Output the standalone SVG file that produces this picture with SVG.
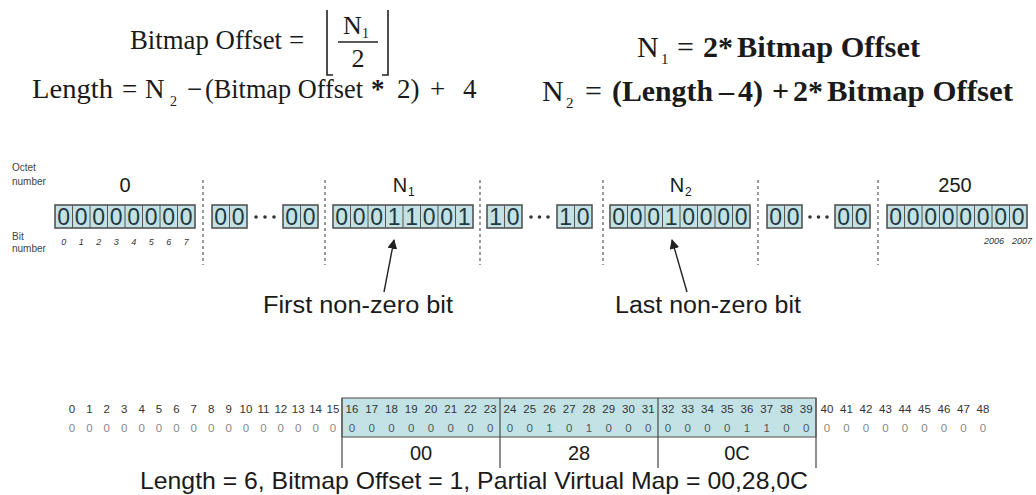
<svg xmlns="http://www.w3.org/2000/svg" width="1036" height="495" viewBox="0 0 1036 495">
<style>
.ser{font-family:"Liberation Serif","Times New Roman",serif;fill:#1a1a1a}
.sans{font-family:"Liberation Sans",Arial,sans-serif;fill:#1a1a1a}
.grp{fill:#c4e1e4;stroke:#4a4a4a;stroke-width:1.5}
.cl{stroke:#555;stroke-width:1}
.dig{font-family:"Liberation Sans",Arial,sans-serif;font-size:23px;fill:#1e3a40;text-anchor:middle}
.sep{stroke:#666;stroke-width:1.3;stroke-dasharray:3 3}
.dot{fill:#333}
.bn{font-family:"Liberation Sans",Arial,sans-serif;font-size:9px;font-style:italic;fill:#333;text-anchor:middle}
.lbl{font-family:"Liberation Sans",Arial,sans-serif;font-size:10px;fill:#444}
.oct{font-family:"Liberation Sans",Arial,sans-serif;font-size:20px;fill:#1a1a1a;text-anchor:middle}
.idx{font-family:"Liberation Sans",Arial,sans-serif;font-size:11.5px;fill:#333;text-anchor:middle}
.z{font-family:"Liberation Sans",Arial,sans-serif;font-size:11.5px;fill:#888;text-anchor:middle}
.zi{font-family:"Liberation Sans",Arial,sans-serif;font-size:11.5px;fill:#4a5a5c;text-anchor:middle}
.hex{font-family:"Liberation Sans",Arial,sans-serif;font-size:20px;fill:#1a1a1a;text-anchor:middle}
.tl{stroke:#555;stroke-width:1.3}
.arr{stroke:#222;stroke-width:1.4;fill:none}
</style>
<defs>
<marker id="ah" viewBox="0 0 10 10" refX="9" refY="5" markerWidth="7" markerHeight="7" orient="auto">
<path d="M0,0 L10,5 L0,10 z" fill="#222"/>
</marker>
</defs>
<rect width="1036" height="495" fill="#fff"/>

<g id="formula-left">
<text class="ser" font-size="27" y="49"><tspan x="130" textLength="152" lengthAdjust="spacingAndGlyphs">Bitmap Offset</tspan><tspan x="289">=</tspan></text>
<path d="M327,10 V75 H333 M388,10 V75 H382" stroke="#222" stroke-width="1.6" fill="none"/>
<text class="ser" font-size="26" x="343" y="34">N</text>
<text class="ser" font-size="14" x="362" y="38">1</text>
<line x1="338" y1="42" x2="378" y2="42" stroke="#222" stroke-width="1.4"/>
<text class="ser" font-size="26" x="358" y="67" text-anchor="middle">2</text>
<text class="ser" font-size="27" y="98"><tspan x="32" textLength="81" lengthAdjust="spacingAndGlyphs">Length</tspan><tspan x="122">=</tspan><tspan x="145">N</tspan><tspan x="187">−</tspan><tspan x="205" textLength="158" lengthAdjust="spacingAndGlyphs">(Bitmap Offset</tspan><tspan x="371" font-weight="bold">*</tspan><tspan x="397">2)</tspan><tspan x="430">+</tspan><tspan x="463">4</tspan></text>
<text class="ser" font-size="14" x="170" y="106">2</text>
</g>

<g id="formula-right">
<text class="ser" font-size="30" y="57"><tspan x="637">N</tspan><tspan x="677">=</tspan><tspan x="703" font-weight="bold">2*</tspan><tspan x="737" font-weight="bold" textLength="183" lengthAdjust="spacingAndGlyphs">Bitmap Offset</tspan></text>
<text class="ser" font-size="15" x="661" y="64">1</text>
<text class="ser" font-size="30" y="101"><tspan x="542">N</tspan><tspan x="585">=</tspan><tspan x="612" font-weight="bold" textLength="101" lengthAdjust="spacingAndGlyphs">(Length</tspan><tspan x="719" font-weight="bold">–</tspan><tspan x="738" font-weight="bold">4)</tspan><tspan x="772" font-weight="bold">+</tspan><tspan x="793" font-weight="bold">2*</tspan><tspan x="827" font-weight="bold" textLength="186" lengthAdjust="spacingAndGlyphs">Bitmap Offset</tspan></text>
<text class="ser" font-size="15" x="566" y="108">2</text>
</g>

<g id="labels-left">
<text class="lbl" x="12" y="171">Octet</text>
<text class="lbl" x="12" y="185">number</text>
<text class="lbl" x="12" y="240">Bit</text>
<text class="lbl" x="12" y="252">number</text>
</g>

<g id="separators">
<line class="sep" x1="203" y1="180" x2="203" y2="265"/>
<line class="sep" x1="325" y1="180" x2="325" y2="265"/>
<line class="sep" x1="480" y1="180" x2="480" y2="265"/>
<line class="sep" x1="603" y1="180" x2="603" y2="265"/>
<line class="sep" x1="758" y1="180" x2="758" y2="265"/>
<line class="sep" x1="878" y1="180" x2="878" y2="265"/>
</g>

<g id="octet-0">
<text class="oct" x="125" y="192">0</text>
<rect class="grp" x="55" y="205" width="140" height="23"/>
<path class="cl" d="M72.5,205V228M90,205V228M107.5,205V228M125,205V228M142.5,205V228M160,205V228M177.5,205V228"/>
<text class="dig" y="225" x="63.75 81.25 98.75 116.25 133.75 151.25 168.75 186.25">00000000</text>
<text class="bn" y="245" x="63.75 81.25 98.75 116.25 133.75 151.25 168.75 186.25">01234567</text>
</g>

<g id="octets-a">
<rect class="grp" x="212" y="205" width="35" height="23"/>
<path class="cl" d="M229.5,205V228"/>
<text class="dig" y="225" x="220.75 238.25">00</text>
<circle class="dot" cx="256" cy="217" r="1.8"/><circle class="dot" cx="265" cy="217" r="1.8"/><circle class="dot" cx="274" cy="217" r="1.8"/>
<rect class="grp" x="283" y="205" width="35" height="23"/>
<path class="cl" d="M300.5,205V228"/>
<text class="dig" y="225" x="291.75 309.25">00</text>
</g>

<g id="octet-n1">
<text class="oct" x="400" y="192">N</text>
<text class="sans" font-size="12" x="408" y="196">1</text>
<rect class="grp" x="333" y="205" width="140" height="23"/>
<path class="cl" d="M350.5,205V228M368,205V228M385.5,205V228M403,205V228M420.5,205V228M438,205V228M455.5,205V228"/>
<text class="dig" y="225" x="341.75 359.25 376.75 394.25 411.75 429.25 446.75 464.25">00011001</text>
</g>

<g id="octets-b">
<rect class="grp" x="487" y="205" width="35" height="23"/>
<path class="cl" d="M504.5,205V228"/>
<text class="dig" y="225" x="495.75 513.25">10</text>
<circle class="dot" cx="531" cy="217" r="1.8"/><circle class="dot" cx="539.5" cy="217" r="1.8"/><circle class="dot" cx="548" cy="217" r="1.8"/>
<rect class="grp" x="557" y="205" width="35" height="23"/>
<path class="cl" d="M574.5,205V228"/>
<text class="dig" y="225" x="565.75 583.25">10</text>
</g>

<g id="octet-n2">
<text class="oct" x="677" y="192">N</text>
<text class="sans" font-size="12" x="685" y="196">2</text>
<rect class="grp" x="610" y="205" width="140" height="23"/>
<path class="cl" d="M627.5,205V228M645,205V228M662.5,205V228M680,205V228M697.5,205V228M715,205V228M732.5,205V228"/>
<text class="dig" y="225" x="618.75 636.25 653.75 671.25 688.75 706.25 723.75 741.25">00010000</text>
</g>

<g id="octets-c">
<rect class="grp" x="767" y="205" width="35" height="23"/>
<path class="cl" d="M784.5,205V228"/>
<text class="dig" y="225" x="775.75 793.25">00</text>
<circle class="dot" cx="810" cy="217" r="1.8"/><circle class="dot" cx="818.5" cy="217" r="1.8"/><circle class="dot" cx="827" cy="217" r="1.8"/>
<rect class="grp" x="835" y="205" width="35" height="23"/>
<path class="cl" d="M852.5,205V228"/>
<text class="dig" y="225" x="843.75 861.25">00</text>
</g>

<g id="octet-250">
<text class="oct" x="955" y="192">250</text>
<rect class="grp" x="887" y="205" width="140" height="23"/>
<path class="cl" d="M904.5,205V228M922,205V228M939.5,205V228M957,205V228M974.5,205V228M992,205V228M1009.5,205V228"/>
<text class="dig" y="225" x="895.75 913.25 930.75 948.25 965.75 983.25 1000.75 1018.25">00000000</text>
<text class="bn" font-size="8" x="994" y="244">2006</text>
<text class="bn" font-size="8" x="1022" y="244">2007</text>
</g>

<g id="connectors">
<line class="arr" x1="384" y1="292" x2="394" y2="240" marker-end="url(#ah)"/>
<line class="arr" x1="687" y1="292" x2="672" y2="240" marker-end="url(#ah)"/>
</g>

<g id="label-first">
<text class="sans" font-size="23" x="263" y="313" textLength="190" lengthAdjust="spacingAndGlyphs">First non-zero bit</text>
</g>
<g id="label-last">
<text class="sans" font-size="23" x="615" y="313" textLength="186" lengthAdjust="spacingAndGlyphs">Last non-zero bit</text>
</g>

<g id="bit-table">
<rect x="342" y="398" width="474" height="39" fill="#c2e2e6" stroke="#666" stroke-width="1.2"/>
<path class="tl" d="M342,398V468M500,398V468M658,398V468M816,398V468"/>
<text class="idx" y="413"><tspan x="72">0</tspan><tspan x="89.4">1</tspan><tspan x="106.8">2</tspan><tspan x="124.2">3</tspan><tspan x="141.6">4</tspan><tspan x="159">5</tspan><tspan x="176.4">6</tspan><tspan x="193.8">7</tspan><tspan x="211.2">8</tspan><tspan x="228.6">9</tspan><tspan x="246">10</tspan><tspan x="263.4">11</tspan><tspan x="280.8">12</tspan><tspan x="298.2">13</tspan><tspan x="315.6">14</tspan><tspan x="333">15</tspan><tspan x="351.9">16</tspan><tspan x="371.65">17</tspan><tspan x="391.4">18</tspan><tspan x="411.15">19</tspan><tspan x="430.9">20</tspan><tspan x="450.65">21</tspan><tspan x="470.4">22</tspan><tspan x="490.15">23</tspan><tspan x="509.9">24</tspan><tspan x="529.65">25</tspan><tspan x="549.4">26</tspan><tspan x="569.15">27</tspan><tspan x="588.9">28</tspan><tspan x="608.65">29</tspan><tspan x="628.4">30</tspan><tspan x="648.15">31</tspan><tspan x="667.9">32</tspan><tspan x="687.65">33</tspan><tspan x="707.4">34</tspan><tspan x="727.15">35</tspan><tspan x="746.9">36</tspan><tspan x="766.65">37</tspan><tspan x="786.4">38</tspan><tspan x="806.15">39</tspan><tspan x="827">40</tspan><tspan x="846.5">41</tspan><tspan x="866">42</tspan><tspan x="885.5">43</tspan><tspan x="905">44</tspan><tspan x="924.5">45</tspan><tspan x="944">46</tspan><tspan x="963.5">47</tspan><tspan x="983">48</tspan></text>
<text class="z" y="432" x="72 89.4 106.8 124.2 141.6 159 176.4 193.8 211.2 228.6 246 263.4 280.8 298.2 315.6 333">0000000000000000</text>
<text class="zi" y="432" x="351.9 371.65 391.4 411.15 430.9 450.65 470.4 490.15 509.9 529.65 549.4 569.15 588.9 608.65 628.4 648.15 667.9 687.65 707.4 727.15 746.9 766.65 786.4 806.15">000000000010100000001100</text>
<text class="z" y="432" x="827 846.5 866 885.5 905 924.5 944 963.5 983">000000000</text>
<text class="hex" x="421" y="460">00</text>
<text class="hex" x="579" y="460">28</text>
<text class="hex" x="737" y="460">0C</text>
</g>

<g id="summary">
<text class="sans" font-size="24" x="140" y="489" textLength="668" lengthAdjust="spacingAndGlyphs">Length = 6, Bitmap Offset = 1, Partial Virtual Map = 00,28,0C</text>
</g>
</svg>
